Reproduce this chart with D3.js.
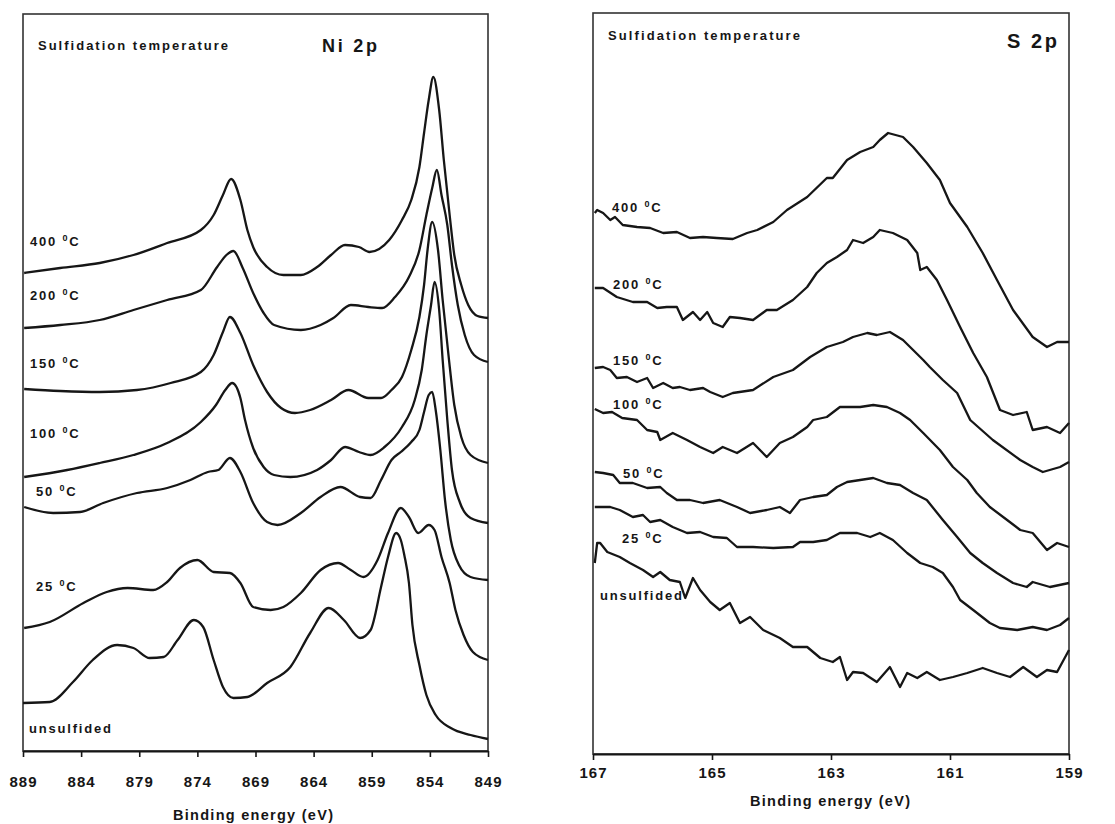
<!DOCTYPE html>
<html>
<head>
<meta charset="utf-8">
<script src="https://cdn.jsdelivr.net/npm/d3@7"></script>
<style>
    body { margin: 0; background: #fff; }
    svg { display: block; font-family: "Liberation Sans", Arial, sans-serif; }
</style>
</head>
<body>
<div id="chart"></div>
<script>
// Tick values (binding energy, eV)
const niTicks = [889, 884, 879, 874, 869, 864, 859, 854, 849];
const sTicks = [167, 165, 163, 161, 159];

// Sulfidation temperatures, top to bottom
const tempLabels = ['400', '200', '150', '100', '50', '25', 'unsulfided'];

// Ni 2p spectra: [binding energy (eV), intensity (a.u., offset)]
const ni400 = [[888.9,47.8],[885.8,48.3],[882.4,48.8],[879.5,49.6],[876.6,50.8],[873.7,52.1],[872.6,53.6],[871.8,55.6],[871.1,57.2],[870.3,55.1],[869.7,52.1],[869.2,50.4],[868.0,48.4],[866.6,47.6],[865.1,47.6],[863.7,48.4],[862.5,49.6],[861.3,50.6],[860.1,50.4],[859.2,49.9],[857.5,51.1],[856.4,53.1],[855.6,55.1],[854.9,58.4],[854.5,61.8],[854.1,65.1],[853.7,67.4],[853.2,64.1],[852.8,59.1],[852.3,53.6],[851.9,49.6],[851.3,46.6],[850.7,44.6],[849.9,43.5],[849.0,43.3]];
const ni200 = [[888.9,42.3],[885.8,42.6],[882.4,43.1],[879.5,44.1],[876.6,45.1],[873.7,46.1],[872.3,48.4],[871.5,49.6],[870.9,50.0],[870.1,48.3],[869.2,45.8],[868.3,43.8],[867.4,42.6],[865.1,42.1],[863.4,42.6],[862.3,43.3],[860.8,44.6],[859.3,44.4],[858.1,44.3],[857.0,45.4],[855.8,47.4],[854.9,50.1],[854.3,53.6],[853.8,56.3],[853.4,58.1],[853.0,55.6],[852.5,52.6],[852.1,48.6],[851.6,44.6],[851.0,41.6],[850.2,39.6],[849.0,38.9]];
const ni150 = [[888.9,36.2],[885.8,36.0],[882.4,35.9],[879.2,36.1],[876.3,36.8],[873.7,37.9],[872.6,39.6],[871.8,41.9],[871.2,43.4],[870.3,41.8],[869.2,38.6],[868.0,35.9],[866.8,34.3],[865.6,33.8],[864.3,34.1],[862.5,35.1],[861.0,36.1],[859.3,35.3],[858.2,35.3],[857.3,36.1],[856.4,37.4],[855.6,40.1],[854.9,43.4],[854.5,46.6],[854.2,50.1],[853.8,52.9],[853.3,50.1],[852.9,45.1],[852.4,39.6],[851.9,34.6],[851.3,31.4],[850.5,29.6],[849.0,28.8]];
const ni100 = [[888.9,27.4],[885.2,28.1],[882.4,28.8],[879.5,29.6],[876.6,30.8],[873.7,32.9],[872.4,34.6],[871.6,36.1],[871.0,36.8],[870.3,35.3],[869.9,33.1],[869.2,30.3],[868.3,28.4],[867.4,27.6],[866.0,27.4],[863.7,28.1],[862.5,29.1],[861.3,30.4],[860.1,29.9],[859.1,29.6],[857.9,30.4],[856.4,32.4],[855.3,35.1],[854.7,38.1],[854.3,41.6],[853.9,44.6],[853.6,46.9],[853.2,44.1],[852.9,39.1],[852.5,33.1],[852.1,28.1],[851.4,24.8],[850.5,23.3],[849.0,22.8]];
const ni50 = [[888.9,24.4],[886.4,23.8],[884.1,23.9],[882.1,24.8],[879.2,25.8],[876.6,26.3],[874.6,27.1],[873.1,27.9],[872.2,28.1],[871.2,29.3],[870.3,27.9],[869.2,24.8],[868.0,22.9],[867.1,22.6],[865.1,23.8],[863.4,25.4],[861.7,26.4],[860.0,25.4],[859.1,25.3],[858.2,27.1],[857.3,29.1],[856.5,29.9],[855.6,30.9],[854.9,32.1],[854.5,33.9],[854.1,35.6],[853.8,35.9],[853.5,34.1],[853.1,30.1],[852.7,25.1],[852.2,21.1],[851.5,18.6],[850.5,17.4],[849.0,17.1]];
const ni25 = [[888.9,12.3],[886.7,12.9],[883.8,14.8],[881.8,15.9],[880.0,16.3],[877.8,16.1],[876.6,16.9],[875.5,18.3],[874.0,19.1],[872.6,17.9],[871.2,17.8],[870.3,16.8],[869.2,14.4],[867.7,14.1],[866.6,14.4],[865.1,15.8],[863.4,18.1],[861.9,18.8],[860.8,18.1],[859.7,17.4],[858.5,19.1],[857.6,21.8],[856.5,24.3],[855.8,23.4],[855.0,21.8],[854.1,22.6],[853.6,22.1],[853.0,19.4],[852.3,16.8],[851.8,14.1],[851.1,11.6],[850.3,9.9],[849.0,9.1]];
const niUnsulfided = [[889.0,4.8],[886.7,4.9],[884.7,6.9],[883.0,9.1],[880.9,10.6],[879.5,10.3],[878.1,9.3],[876.9,9.4],[875.7,11.1],[874.3,13.1],[873.5,12.4],[872.6,9.1],[871.8,6.4],[870.9,5.3],[869.7,5.4],[868.0,6.8],[866.0,8.4],[864.3,11.8],[862.7,14.3],[861.4,13.1],[860.0,11.3],[859.1,12.1],[858.2,16.4],[857.6,19.4],[856.9,21.8],[856.5,21.1],[856.2,19.6],[855.8,16.8],[855.5,12.6],[854.9,8.6],[854.3,5.6],[853.5,3.6],[852.2,2.3],[850.5,1.6],[849.0,1.2]];

// S 2p spectra: [binding energy (eV), intensity (a.u., offset)]
const s400 = [[166.97,54.1],[166.93,54.4],[166.83,54.1],[166.71,53.4],[166.63,53.7],[166.50,52.9],[166.26,52.7],[166.04,52.6],[165.82,52.1],[165.59,52.2],[165.37,51.6],[165.15,51.7],[164.92,51.6],[164.65,51.5],[164.41,52.1],[164.24,52.4],[163.97,53.2],[163.74,54.4],[163.40,55.7],[163.07,57.6],[162.97,57.6],[162.73,59.4],[162.51,60.2],[162.29,60.7],[162.18,61.4],[162.04,62.1],[161.79,61.7],[161.62,60.7],[161.39,59.1],[161.17,57.4],[161.00,55.1],[160.71,52.7],[160.45,50.1],[160.21,47.4],[159.94,44.4],[159.61,41.7],[159.37,40.7],[159.20,41.2],[159.00,41.2]];
const s200 = [[166.97,46.6],[166.83,46.6],[166.60,45.7],[166.33,45.2],[166.09,45.2],[165.92,44.6],[165.76,44.7],[165.59,44.7],[165.49,43.4],[165.32,44.2],[165.20,43.4],[165.08,44.2],[164.98,43.1],[164.82,42.7],[164.70,43.7],[164.53,43.6],[164.31,43.4],[164.08,44.4],[163.91,44.4],[163.64,45.4],[163.40,46.7],[163.24,48.1],[163.07,49.1],[162.90,49.7],[162.73,50.4],[162.63,51.4],[162.46,51.1],[162.29,51.7],[162.18,52.4],[161.96,52.1],[161.72,51.4],[161.55,50.1],[161.50,48.4],[161.39,48.7],[161.22,47.4],[161.05,45.4],[160.83,42.7],[160.61,40.1],[160.38,37.7],[160.16,34.4],[159.94,33.9],[159.71,34.2],[159.61,32.4],[159.37,32.7],[159.15,32.1],[159.00,33.1]];
const s150 = [[166.97,38.6],[166.83,38.7],[166.71,38.4],[166.60,37.6],[166.43,37.7],[166.26,37.2],[166.09,37.6],[165.99,36.6],[165.82,37.1],[165.66,36.6],[165.54,36.7],[165.37,36.4],[165.15,36.6],[165.03,36.2],[164.82,35.7],[164.65,36.1],[164.31,36.4],[163.97,37.7],[163.64,38.4],[163.35,39.7],[163.07,40.7],[162.80,41.2],[162.63,41.7],[162.39,42.1],[162.23,41.9],[162.01,42.2],[161.79,41.4],[161.62,40.4],[161.45,39.4],[161.34,38.7],[161.12,37.4],[160.88,36.1],[160.66,33.4],[160.28,31.4],[159.82,29.4],[159.61,28.7],[159.44,28.2],[159.15,28.7],[159.00,29.2]];
const s100 = [[166.97,34.5],[166.83,34.1],[166.68,34.2],[166.51,33.6],[166.26,33.4],[166.09,32.4],[165.92,32.2],[165.87,31.4],[165.66,32.1],[165.42,31.4],[165.20,30.7],[164.98,30.1],[164.82,30.7],[164.58,30.1],[164.31,31.1],[164.08,29.7],[163.86,31.1],[163.64,31.7],[163.40,32.7],[163.30,33.4],[163.07,33.7],[162.85,34.7],[162.51,34.7],[162.29,34.9],[162.06,34.7],[161.84,34.1],[161.67,33.4],[161.45,32.1],[161.17,30.4],[160.95,28.7],[160.71,27.4],[160.55,26.1],[160.33,24.7],[160.04,23.4],[159.82,22.4],[159.61,22.1],[159.37,20.4],[159.20,21.1],[159.00,20.7]];
const s50 = [[166.97,28.2],[166.83,28.1],[166.66,27.9],[166.55,27.1],[166.33,27.1],[166.09,26.6],[165.87,26.7],[165.76,26.1],[165.59,25.4],[165.37,25.4],[165.15,25.1],[164.87,25.4],[164.58,24.7],[164.36,24.1],[164.08,24.4],[163.86,24.7],[163.69,24.1],[163.52,25.4],[163.30,25.7],[163.07,25.9],[162.90,26.7],[162.73,27.2],[162.51,27.4],[162.29,27.6],[162.06,27.1],[161.84,26.9],[161.62,26.1],[161.39,25.4],[161.12,23.4],[160.88,21.7],[160.66,20.1],[160.45,19.1],[160.21,18.1],[159.94,17.1],[159.71,16.7],[159.61,17.2],[159.32,16.7],[159.00,17.1]];
const s25 = [[166.97,24.7],[166.71,24.7],[166.55,24.4],[166.33,23.7],[166.16,23.9],[166.04,23.2],[165.87,23.4],[165.66,22.7],[165.42,22.1],[165.20,22.2],[164.98,21.7],[164.75,21.6],[164.58,20.7],[164.31,20.7],[163.97,20.6],[163.64,20.7],[163.52,21.2],[163.30,21.2],[163.07,21.4],[162.85,22.1],[162.56,22.1],[162.34,21.7],[162.18,22.1],[161.96,21.4],[161.72,20.1],[161.50,19.1],[161.29,18.7],[161.12,18.1],[160.95,16.7],[160.83,15.4],[160.61,14.4],[160.33,13.1],[160.16,12.6],[159.87,12.4],[159.61,12.7],[159.37,12.4],[159.15,12.9],[159.00,13.6]];
const sUnsulfided = [[166.97,19.1],[166.93,21.1],[166.88,21.1],[166.76,20.2],[166.55,19.7],[166.38,19.1],[166.16,18.4],[165.99,17.7],[165.87,18.2],[165.71,17.4],[165.54,17.2],[165.45,15.6],[165.32,17.6],[165.20,16.4],[165.03,15.2],[164.87,14.4],[164.70,15.1],[164.53,13.1],[164.36,13.7],[164.14,12.4],[163.86,11.6],[163.64,10.7],[163.40,10.7],[163.18,9.6],[162.97,9.2],[162.85,9.7],[162.73,7.4],[162.63,8.2],[162.46,8.1],[162.23,7.2],[162.01,8.7],[161.84,6.7],[161.72,8.1],[161.55,7.6],[161.39,8.2],[161.17,7.4],[160.95,7.7],[160.71,8.1],[160.45,8.6],[160.21,8.1],[159.99,7.7],[159.77,8.7],[159.54,7.7],[159.37,8.4],[159.20,8.2],[159.00,10.4]];

const niSeries = [ni400, ni200, ni150, ni100, ni50, ni25, niUnsulfided];
const sSeries = [s400, s200, s150, s100, s50, s25, sUnsulfided];

const ink = '#161616';

const svg = d3.select('#chart').append('svg')
    .attr('width', 1115)
    .attr('height', 824);

const drawPanel = (cfg) => {
    const x = d3.scaleLinear().domain(cfg.xDomain).range([cfg.left, cfg.right]);
    const y = d3.scaleLinear().domain(cfg.yDomain).range([cfg.bottom, cfg.top]);
    const g = svg.append('g');

    // Marco del panel
    g.append('rect')
        .attr('x', cfg.left).attr('y', cfg.top)
        .attr('width', cfg.right - cfg.left)
        .attr('height', cfg.bottom - cfg.top)
        .attr('fill', 'none')
        .attr('stroke', '#333')
        .attr('stroke-width', 1.6);

    // Eje X
    const axis = d3.axisBottom(x)
        .tickValues(cfg.ticks)
        .tickFormat(d3.format('d'))
        .tickSize(6)
        .tickSizeOuter(0)
        .tickPadding(cfg.tickPad);

    const ax = g.append('g')
        .attr('transform', `translate(0,${cfg.bottom})`)
        .call(axis);
    ax.select('.domain').attr('stroke', ink).attr('stroke-width', 2.2);
    ax.selectAll('.tick line').attr('stroke', ink).attr('stroke-width', 1.6);
    ax.selectAll('.tick text')
        .attr('fill', ink)
        .style('font-size', '15px')
        .style('font-weight', 'bold')
        .style('letter-spacing', '1px');

    g.append('text')
        .attr('x', cfg.titleX).attr('y', cfg.titleY)
        .attr('text-anchor', 'middle')
        .attr('fill', ink)
        .style('font-size', '14.5px')
        .style('font-weight', 'bold')
        .attr('textLength', 160)
        .attr('lengthAdjust', 'spacing')
        .text('Binding energy (eV)');

    // Encabezados
    g.append('text')
        .attr('x', cfg.headX).attr('y', cfg.headY)
        .attr('fill', ink)
        .style('font-size', '13px')
        .style('font-weight', 'bold')
        .attr('textLength', cfg.headLen)
        .attr('lengthAdjust', 'spacing')
        .text('Sulfidation temperature');

    g.append('text')
        .attr('x', cfg.nameX).attr('y', cfg.nameY)
        .attr('fill', ink)
        .style('font-size', cfg.nameSize + 'px')
        .style('font-weight', 'bold')
        .attr('textLength', cfg.nameLen)
        .attr('lengthAdjust', 'spacing')
        .text(cfg.name);

    // Espectros
    const line = d3.line()
        .x(d => x(d[0]))
        .y(d => y(d[1]))
        .curve(cfg.curve);

    g.append('g')
        .selectAll('path')
        .data(cfg.series)
        .enter().append('path')
        .attr('d', line)
        .attr('fill', 'none')
        .attr('stroke', ink)
        .attr('stroke-width', 2.3)
        .attr('stroke-linejoin', 'round');

    // Etiquetas de temperatura
    const labels = g.append('g')
        .selectAll('text')
        .data(tempLabels)
        .enter().append('text')
        .attr('x', (d, i) => cfg.labelPos[i][0])
        .attr('y', (d, i) => y(cfg.labelPos[i][1]))
        .attr('fill', ink)
        .style('font-size', '13px')
        .style('font-weight', 'bold')
        .style('letter-spacing', '1.8px');

    labels.each(function (d) {
        const t = d3.select(this);
        if (d === 'unsulfided') {
            t.text(d);
            return;
        }
        t.append('tspan').text(d + ' ');
        t.append('tspan').attr('dy', -5).style('font-size', '9px').text('0');
        t.append('tspan').attr('dy', 5).text('C');
    });
};

drawPanel({
    xDomain: [889, 849], yDomain: [0, 73.7],
    left: 23, right: 488, top: 14, bottom: 751,
    ticks: niTicks, tickPad: 19,
    titleX: 253, titleY: 820,
    headX: 38, headY: 50, headLen: 190,
    name: 'Ni 2p', nameX: 322, nameY: 52, nameSize: 18, nameLen: 55,
    series: niSeries,
    curve: d3.curveMonotoneX,
    labelPos: [[30, 50.5], [30, 45.1], [30, 38.3], [30, 31.3], [36, 25.5], [36, 16.0], [29, 1.8]]
});

drawPanel({
    xDomain: [167, 159], yDomain: [0, 74.1],
    left: 593, right: 1069, top: 13, bottom: 754,
    ticks: sTicks, tickPad: 7,
    titleX: 830, titleY: 806,
    headX: 608, headY: 40, headLen: 192,
    name: 'S 2p', nameX: 1007, nameY: 48, nameSize: 20, nameLen: 50,
    series: sSeries,
    curve: d3.curveLinear,
    labelPos: [[612, 54.2], [613, 46.5], [613, 38.9], [613, 34.5], [623, 27.6], [622, 21.1], [600, 15.4]]
});
</script>
</body>
</html>
